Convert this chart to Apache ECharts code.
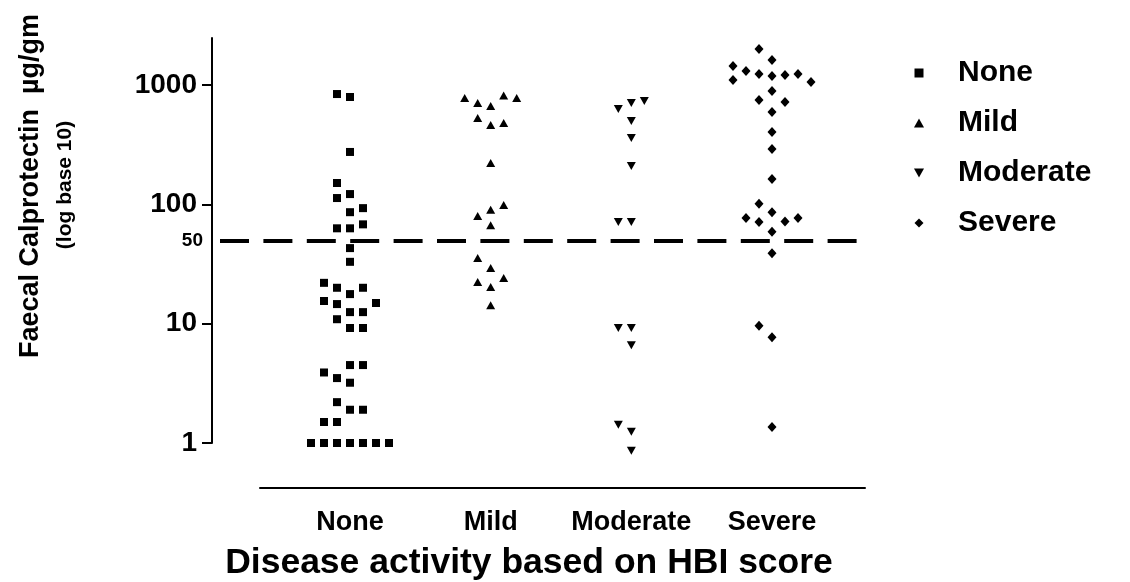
<!DOCTYPE html>
<html>
<head>
<meta charset="utf-8">
<script src="https://cdn.jsdelivr.net/npm/echarts@6/dist/echarts.min.js"></script>
<style>
  html, body { margin: 0; padding: 0; background: #fff; }
  #chart { width: 1130px; height: 582px; }
</style>
</head>
<body>
<div id="chart"></div>
<script>
// Disease activity groups (HBI score) and faecal calprotectin per patient, µg/gm.
// Values are listed in the order they are stacked into each column.
const categories = ['None', 'Mild', 'Moderate', 'Severe'];
const noneValues = [794, 841, 275, 122, 151, 113, 86, 93, 63, 63, 68, 43, 33,
  17.7, 20, 20, 22, 12.5, 14.6, 12.5, 15.5, 14.9, 10.9, 9.2, 9.2,
  3.2, 4.5, 3.5, 4.5, 3.9, 1.9, 2.2, 1.9, 1.5, 1.5, 1, 1, 1, 1, 1, 1, 1];
const mildValues = [667, 707, 818, 780, 780, 462, 529, 481, 222, 90, 80, 99, 67,
  29.3, 20.3, 22.4, 24.2, 35.5, 14.3];
const moderateValues = [707, 630, 734, 499, 360, 210, 71, 71, 9.2, 9.2, 6.6, 1.24, 1.42, 0.86];
const severeValues = [1191, 1237, 1213, 1310, 1237, 1443, 1622, 2004, 1102, 1060, 891, 749,
  721, 594, 404, 291, 163, 86, 71, 72, 101, 77, 77, 59, 39, 7.7, 9.6, 1.36];
const yTickValues = [1, 10, 100, 1000];
const cutoffValue = 50;

const FONT = '"Liberation Sans", Arial, Helvetica, sans-serif';
const groups = [
  { values: noneValues,     symbol: 'path://M0,0H10V10H0Z',          size: [8, 8] },
  { values: mildValues,     symbol: 'path://M5,0L10,9L0,9Z',         size: [9, 8] },
  { values: moderateValues, symbol: 'path://M0,0L10,0L5,9Z',         size: [9, 8] },
  { values: severeValues,   symbol: 'path://M5,0L10,5L5,10L0,5Z',    size: [9, 10] }
];

// horizontal extent in category units: plot grid and the detached x axis share the same scale
const X_MAX = 4.6611;
const X_MIN_PLOT = 0.01896;
const X_MIN_AXIS = 0.3602;

const chart = echarts.init(document.getElementById('chart'), null, { renderer: 'canvas' });

const option = {
  backgroundColor: '#fff',
  animation: false,
  grid: [
    { left: 212, right: 265, top: 38, bottom: 139 },
    { left: 260, right: 265, top: 480, bottom: 94 }
  ],
  xAxis: [
    { gridIndex: 0, type: 'value', min: X_MIN_PLOT, max: X_MAX, show: false },
    {
      gridIndex: 1, type: 'value', min: X_MIN_AXIS, max: X_MAX,
      axisLine: { show: true, lineStyle: { color: '#000', width: 2 } },
      axisTick: { show: false },
      splitLine: { show: false },
      axisLabel: {
        customValues: [1, 2, 3, 4],
        formatter: v => categories[Math.round(v) - 1],
        margin: 21,
        color: '#000', fontSize: 27, fontWeight: 'bold', fontFamily: FONT
      }
    }
  ],
  yAxis: [
    {
      gridIndex: 0, type: 'log', logBase: 10, min: 1, max: 2480,
      axisLine: { show: true, lineStyle: { color: '#000', width: 2 } },
      axisTick: { show: true, length: 10, customValues: yTickValues, lineStyle: { color: '#000', width: 2 } },
      splitLine: { show: false },
      axisLabel: {
        customValues: yTickValues,
        formatter: v => String(Math.round(v)),
        margin: 15,
        color: '#000', fontSize: 28, fontWeight: 'bold', fontFamily: FONT
      }
    },
    { gridIndex: 1, type: 'value', show: false }
  ],
  legend: {
    orient: 'vertical',
    left: 909, top: 53,
    itemWidth: 68, itemHeight: 9, itemGap: 20,
    selectedMode: false,
    data: categories,
    textStyle: { color: '#000', fontSize: 30, fontWeight: 'bold', fontFamily: FONT }
  },
  graphic: [
    {
      type: 'text', x: 31, y: 186, rotation: Math.PI / 2,
      style: {
        text: 'Faecal Calprotectin  µg/gm',
        font: 'bold 27px ' + FONT, fill: '#000',
        align: 'center', verticalAlign: 'middle'
      }
    },
    {
      type: 'text', x: 65, y: 185, rotation: Math.PI / 2,
      style: {
        text: '(log base 10)',
        font: 'bold 21px ' + FONT, fill: '#000',
        align: 'center', verticalAlign: 'middle'
      }
    },
    {
      type: 'text', x: 529, y: 563,
      style: {
        text: 'Disease activity based on HBI score',
        font: 'bold 35.5px ' + FONT, fill: '#000',
        align: 'center', verticalAlign: 'middle'
      }
    }
  ],
  series: groups.map((g, i) => ({
    name: categories[i],
    type: 'scatter',
    xAxisIndex: 0, yAxisIndex: 0,
    clip: false,
    symbol: g.symbol,
    symbolSize: g.size,
    itemStyle: { color: '#000', opacity: 1 },
    data: [],
    markLine: i === 0 ? {
      silent: true,
      symbol: 'none',
      data: [{ yAxis: cutoffValue }],
      lineStyle: { color: '#000', width: 4, opacity: 1, type: [29, 14.4], dashOffset: 35.4 },
      label: {
        show: true, position: 'start', distance: 9,
        formatter: String(cutoffValue),
        color: '#000', fontSize: 19, fontWeight: 'bold', fontFamily: FONT
      }
    } : undefined
  }))
};

chart.setOption(option);

// Column scatter: each value takes the nearest free slot beside its group's centre,
// where a slot is free when no earlier mark in it sits within minGap pixels vertically.
const slotPx = 13;
const minGap = 13.5;
const unitPx = chart.convertToPixel({ xAxisIndex: 0 }, 2) - chart.convertToPixel({ xAxisIndex: 0 }, 1);
const slotStep = slotPx / unitPx;
const slotOrder = [0, -1, 1, -2, 2, -3, 3, -4, 4, -5, 5];

function arrange(values, centre) {
  const placed = [];
  return values.map(v => {
    const py = chart.convertToPixel({ yAxisIndex: 0 }, v);
    const slot = slotOrder.find(s => !placed.some(p => p.slot === s && Math.abs(p.py - py) < minGap));
    placed.push({ slot, py });
    return [centre + slot * slotStep, v];
  });
}

chart.setOption({
  series: groups.map((g, i) => ({ data: arrange(g.values, i + 1) }))
});
</script>
</body>
</html>
